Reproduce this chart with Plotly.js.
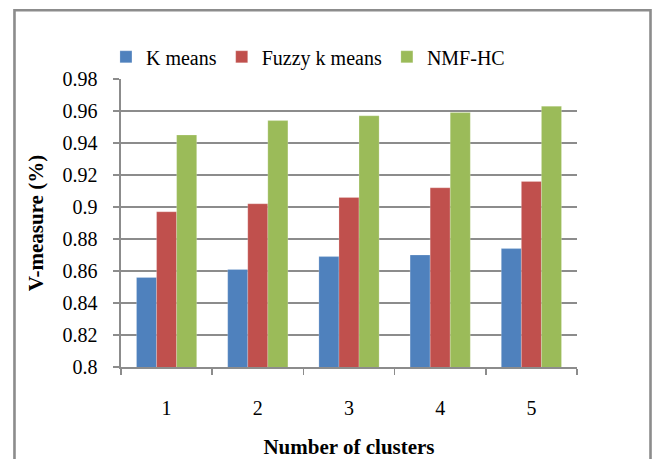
<!DOCTYPE html>
<html>
<head>
<meta charset="utf-8">
<script src="https://cdn.plot.ly/plotly-3.0.1.min.js"></script>
<style>
  html, body { margin: 0; padding: 0; background: #ffffff; }
  #chart { width: 654px; height: 459px; }
</style>
</head>
<body>
<div id="chart"></div>
<script>
// Number of clusters on the x axis
const clusters = ['1', '2', '3', '4', '5'];

// V-measure per method
const kMeans = [0.856, 0.861, 0.869, 0.870, 0.874];
const fuzzyKMeans = [0.897, 0.902, 0.906, 0.912, 0.916];
const nmfHc = [0.945, 0.954, 0.957, 0.959, 0.963];

// Y tick values and their labels
const yTickVals = [0.8, 0.82, 0.84, 0.86, 0.88, 0.9, 0.92, 0.94, 0.96, 0.98];
const yTickText = ['0.8', '0.82', '0.84', '0.86', '0.88', '0.9', '0.92', '0.94', '0.96', '0.98'];

const serif = 'Liberation Serif, Times New Roman, serif';
const gridGray = '#8c8c8c';

function barTrace(name, values, color) {
  return {
    type: 'bar',
    name: name,
    x: clusters,
    y: values,
    marker: { color: color, line: { color: 'rgba(255,255,255,0.35)', width: 0.6 } },
    hoverinfo: 'x+y+name'
  };
}

const data = [
  barTrace('K means', kMeans, '#4F81BD'),
  barTrace('Fuzzy k means', fuzzyKMeans, '#C0504D'),
  barTrace('NMF-HC', nmfHc, '#9BBB59')
];

const layout = {
  width: 654,
  height: 459,
  margin: { l: 121, r: 77, t: 79, b: 92, pad: 0 },
  paper_bgcolor: '#ffffff',
  plot_bgcolor: '#ffffff',
  font: { family: serif, size: 20, color: '#000000' },
  barmode: 'group',
  bargap: 0.34,
  bargroupgap: 0,
  showlegend: true,
  legend: {
    orientation: 'h',
    x: -0.033,
    xanchor: 'left',
    y: 1.077,
    yanchor: 'middle',
    font: { family: serif, size: 20, color: '#000000' },
    bgcolor: 'rgba(0,0,0,0)',
    traceorder: 'normal'
  },
  xaxis: {
    type: 'category',
    showgrid: false,
    showline: true,
    linecolor: gridGray,
    linewidth: 1.5,
    ticks: 'outside',
    tickson: 'boundaries',
    ticklen: 6,
    tickcolor: gridGray,
    tickwidth: 1.5,
    ticklabelstandoff: 22,
    tickfont: { family: serif, size: 20, color: '#000000' },
    title: {
      text: '<b>Number of clusters</b>',
      font: { family: serif, size: 21, color: '#000000' },
      standoff: 23
    },
    automargin: false,
    fixedrange: true
  },
  yaxis: {
    range: [0.8, 0.98],
    tickvals: yTickVals,
    ticktext: yTickText,
    showgrid: true,
    gridcolor: gridGray,
    gridwidth: 1.6,
    zeroline: false,
    showline: true,
    linecolor: gridGray,
    linewidth: 1.6,
    ticks: 'outside',
    ticklen: 6,
    tickcolor: gridGray,
    tickwidth: 1.5,
    ticklabelstandoff: 12,
    tickfont: { family: serif, size: 20, color: '#000000' },
    title: {
      text: '<b>V-measure (%)</b>',
      font: { family: serif, size: 21, color: '#000000' },
      standoff: 13
    },
    automargin: false,
    fixedrange: true
  },
  shapes: [
    {
      type: 'rect',
      xref: 'paper', yref: 'paper',
      x0: -0.2336, x1: 1.1612,
      y0: -0.4, y1: 1.2386,
      line: { color: '#8c8c8c', width: 2.6 },
      fillcolor: 'rgba(0,0,0,0)',
      layer: 'below'
    }
  ]
};

Plotly.newPlot('chart', data, layout, { displayModeBar: false, staticPlot: true });
</script>
</body>
</html>
